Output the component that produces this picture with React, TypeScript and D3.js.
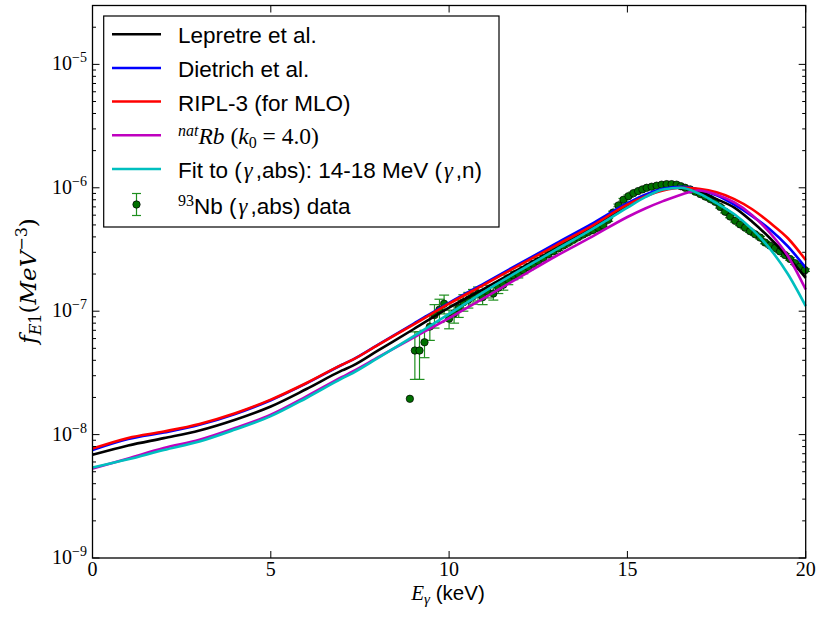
import React from 'react';
import * as d3 from 'd3';

const W = 817;
const H = 617;
const X0 = 92.5;
const X1 = 805.7;
const Y0 = 5.5;
const Y1 = 558;

const xTicks = [0, 5, 10, 15, 20];
const yTickExps = [-9, -8, -7, -6, -5];

// Model curves (E in MeV, f_E1)
const curveE = [0, 1, 2, 3, 4, 5, 6, 7, 7.3, 8, 9, 10, 11, 12, 13, 14, 15, 15.5, 16, 16.5, 17, 17.5, 18, 18.5, 19, 19.5, 20];
const lepretre = [6.85e-9, 8.16e-9, 9.36e-9, 1.08e-8, 1.32e-8, 1.69e-8, 2.34e-8, 3.31e-8, 3.62e-8, 4.79e-8, 7.14e-8, 1.07e-7, 1.53e-7, 2.22e-7, 3.2e-7, 4.7e-7, 7.2e-7, 8.6e-7, 9.7e-7, 1.01e-6, 9.4e-7, 8.1e-7, 6.9e-7, 5.3e-7, 3.9e-7, 2.75e-7, 1.86e-7];
const dietrich = [7.5e-9, 9.2e-9, 1.04e-8, 1.2e-8, 1.47e-8, 1.9e-8, 2.6e-8, 3.68e-8, 4.05e-8, 5.33e-8, 7.9e-8, 1.17e-7, 1.69e-7, 2.45e-7, 3.55e-7, 5.1e-7, 7.5e-7, 8.8e-7, 9.8e-7, 1.02e-6, 9.7e-7, 8.7e-7, 7.3e-7, 5.9e-7, 4.6e-7, 3.35e-7, 2.25e-7];
const ripl3 = [7.7e-9, 9.4e-9, 1.06e-8, 1.22e-8, 1.49e-8, 1.92e-8, 2.62e-8, 3.69e-8, 4.05e-8, 5.31e-8, 7.79e-8, 1.15e-7, 1.65e-7, 2.38e-7, 3.42e-7, 4.9e-7, 7.3e-7, 8.5e-7, 9.5e-7, 1.0e-6, 9.8e-7, 9.2e-7, 8.1e-7, 6.7e-7, 5.2e-7, 3.9e-7, 2.6e-7];
const natRb = [5.3e-9, 6.4e-9, 7.77e-9, 9.08e-9, 1.13e-8, 1.45e-8, 2.04e-8, 2.93e-8, 3.25e-8, 4.22e-8, 6.1e-8, 8.8e-8, 1.29e-7, 1.9e-7, 2.8e-7, 4.0e-7, 5.8e-7, 6.8e-7, 7.8e-7, 8.8e-7, 9.5e-7, 8.8e-7, 7.6e-7, 6.0e-7, 4.3e-7, 2.8e-7, 1.5e-7];
const fitAbs = [5.4e-9, 6.3e-9, 7.5e-9, 8.8e-9, 1.1e-8, 1.41e-8, 1.98e-8, 2.85e-8, 3.15e-8, 4.16e-8, 6.26e-8, 9.5e-8, 1.45e-7, 2.15e-7, 3.15e-7, 4.6e-7, 6.9e-7, 8.4e-7, 9.7e-7, 1.0e-6, 9.0e-7, 7.5e-7, 6.1e-7, 4.6e-7, 3.2e-7, 2.0e-7, 1.1e-7];

const seriesNames = ['Lepretre et al.', 'Dietrich et al.', 'RIPL-3 (for MLO)', 'natRb', 'Fit'];
const seriesColors = ['#000000', '#0000ff', '#ff0000', '#bf00bf', '#00bfbf'];
const seriesValues = [lepretre, dietrich, ripl3, natRb, fitAbs];

// 93Nb (gamma,abs) data
const dataE = [8.90, 9.04, 9.17, 9.31, 9.46, 9.59, 9.73, 9.86, 10.00, 10.14, 10.27, 10.40, 10.54, 10.67, 10.81, 10.94, 11.08, 11.24, 11.38, 11.52, 11.66, 11.80, 11.94, 12.08, 12.22, 12.36, 12.50, 12.64, 12.78, 12.92, 13.06, 13.20, 13.34, 13.48, 13.62, 13.76, 13.90, 14.04, 14.18, 14.32, 14.46, 14.60, 14.75, 14.89, 15.03, 15.17, 15.30, 15.42, 15.54, 15.68, 15.82, 15.96, 16.10, 16.24, 16.38, 16.50, 16.62, 16.76, 16.90, 17.04, 17.18, 17.32, 17.46, 17.60, 17.74, 17.88, 18.02, 18.16, 18.30, 18.44, 18.58, 18.72, 18.86, 19.00, 19.14, 19.28, 19.42, 19.56, 19.70, 19.84, 19.98];
const dataV = [1.95e-8, 4.8e-8, 4.8e-8, 5.6e-8, 7.5e-8, 9.3e-8, 1.03e-7, 1.15e-7, 8.7e-8, 9.6e-8, 1.06e-7, 1.18e-7, 1.24e-7, 1.32e-7, 1.39e-7, 1.30e-7, 1.45e-7, 1.39e-7, 1.55e-7, 1.64e-7, 1.80e-7, 1.95e-7, 2.0e-7, 2.15e-7, 2.28e-7, 2.42e-7, 2.55e-7, 2.7e-7, 2.88e-7, 3.05e-7, 3.22e-7, 3.4e-7, 3.58e-7, 3.78e-7, 3.98e-7, 4.18e-7, 4.38e-7, 4.55e-7, 4.75e-7, 4.95e-7, 5.5e-7, 6.3e-7, 7.2e-7, 8.0e-7, 8.55e-7, 9.05e-7, 9.4e-7, 9.7e-7, 1.0e-6, 1.02e-6, 1.04e-6, 1.06e-6, 1.07e-6, 1.07e-6, 1.06e-6, 1.03e-6, 1.0e-6, 9.7e-7, 9.3e-7, 8.9e-7, 8.5e-7, 8.1e-7, 7.7e-7, 7.0e-7, 6.4e-7, 5.85e-7, 5.4e-7, 5.05e-7, 4.75e-7, 4.45e-7, 4.2e-7, 3.95e-7, 3.6e-7, 3.4e-7, 3.25e-7, 3.05e-7, 2.85e-7, 2.65e-7, 2.45e-7, 2.3e-7, 2.15e-7];
const dataErr = [0, 2.0e-8, 2.0e-8, 1.4e-8, 1.7e-8, 2.0e-8, 2.2e-8, 2.0e-8, 1.5e-8, 1.6e-8, 1.7e-8, 1.8e-8, 1.8e-8, 1.8e-8, 1.8e-8, 1.7e-8, 1.7e-8, 1.6e-8, 1.6e-8, 1.6e-8, 1.6e-8, 1.5e-8, 1.4e-8, 1.4e-8, 1.3e-8, 1.3e-8, 1.2e-8, 1.2e-8, 1.2e-8, 1.2e-8, 1.2e-8, 1.2e-8, 1.2e-8, 1.2e-8, 1.2e-8, 1.3e-8, 1.3e-8, 1.3e-8, 1.4e-8, 1.4e-8, 1.5e-8, 1.6e-8, 1.8e-8, 2.0e-8, 2.0e-8, 2.0e-8, 2.0e-8, 2.0e-8, 2.0e-8, 2.0e-8, 2.0e-8, 2.0e-8, 2.0e-8, 2.0e-8, 2.0e-8, 2.0e-8, 2.0e-8, 2.0e-8, 2.0e-8, 1.8e-8, 1.8e-8, 1.7e-8, 1.6e-8, 1.5e-8, 1.4e-8, 1.3e-8, 1.2e-8, 1.1e-8, 1.0e-8, 1.0e-8, 9e-9, 9e-9, 8e-9, 8e-9, 8e-9, 7e-9, 7e-9, 6e-9, 6e-9, 6e-9, 5e-9];

const SERIF = '"Liberation Serif", "DejaVu Serif", serif';
const WSERIF = '"DejaVu Serif", "Liberation Serif", serif';
const SANS = '"Liberation Sans", Arial, sans-serif';

export default function App() {
  const x = d3.scaleLinear().domain([0, 20]).range([X0, X1]);
  const y = d3.scaleLog().domain([1e-9, 3e-5]).range([Y1, Y0]);
  const line = d3
    .line<[number, number]>()
    .x((d) => x(d[0]))
    .y((d) => y(d[1]))
    .curve(d3.curveMonotoneX);

  const minorY: number[] = [];
  for (let e = -9; e <= -5; e++) {
    for (let m = 2; m <= 9; m++) {
      const v = m * Math.pow(10, e);
      if (v < 3e-5) minorY.push(v);
    }
  }

  const legendRows = [34.3, 68, 101.5, 135.3, 169, 204.5];
  const LX = 178;

  return (
    <svg width={W} height={H} style={{ position: 'absolute', left: 0, top: 0, background: '#fff' }}>
      <rect x={0} y={0} width={W} height={H} fill="#fff" />
      {/* data */}
      <g>
        {dataE.map((e, i) => {
          const v = dataV[i];
          const er = dataErr[i];
          if (er <= 0) return null;
          const cx = x(e);
          const lo = y(Math.max(v - er, 1e-9));
          const hi = y(v + er);
          return (
            <g key={'eb' + i} stroke="#1f8f1f" strokeWidth={1.2}>
              <line x1={cx} x2={cx} y1={lo} y2={hi} />
              <line x1={cx - 5} x2={cx + 5} y1={lo} y2={lo} />
              <line x1={cx - 5} x2={cx + 5} y1={hi} y2={hi} />
            </g>
          );
        })}
        {dataE.map((e, i) => (
          <circle key={'pt' + i} cx={x(e)} cy={y(dataV[i])} r={3.7} fill="#007000" stroke="#000" strokeWidth={0.7} />
        ))}
      </g>
      {/* curves */}
      <g fill="none" strokeWidth={2.6}>
        {seriesValues.map((vals, si) => (
          <path
            key={seriesNames[si]}
            d={line(curveE.map((e, i) => [e, vals[i]] as [number, number])) || ''}
            stroke={seriesColors[si]}
          />
        ))}
      </g>
      {/* frame */}
      <rect x={X0} y={Y0} width={X1 - X0} height={Y1 - Y0} fill="none" stroke="#000" strokeWidth={1.3} />
      {/* ticks */}
      <g stroke="#000" strokeWidth={1}>
        {xTicks.map((t) => (
          <g key={'xt' + t}>
            <line x1={x(t)} x2={x(t)} y1={Y1} y2={Y1 - 7} />
            <line x1={x(t)} x2={x(t)} y1={Y0} y2={Y0 + 7} />
          </g>
        ))}
        {yTickExps.map((e) => {
          const yy = y(Math.pow(10, e));
          return (
            <g key={'yt' + e}>
              <line x1={X0} x2={X0 + 7} y1={yy} y2={yy} />
              <line x1={X1} x2={X1 - 7} y1={yy} y2={yy} />
            </g>
          );
        })}
        {minorY.map((v, i) => (
          <g key={'ym' + i}>
            <line x1={X0} x2={X0 + 3.5} y1={y(v)} y2={y(v)} />
            <line x1={X1} x2={X1 - 3.5} y1={y(v)} y2={y(v)} />
          </g>
        ))}
      </g>
      {/* tick labels */}
      <g fontFamily={SERIF} fill="#000">
        {xTicks.map((t) => (
          <text key={'xl' + t} x={x(t)} y={576} fontSize={20} textAnchor="middle">
            {t}
          </text>
        ))}
        {yTickExps.map((e) => {
          const yy = y(Math.pow(10, e));
          return (
            <text key={'yl' + e} x={87} y={yy + 6} fontSize={20} textAnchor="end">
              10
              <tspan fontSize={14} dy={-8}>
                {'\u2212' + Math.abs(e)}
              </tspan>
            </text>
          );
        })}
      </g>
      {/* axis labels */}
      <text x={448} y={600} textAnchor="middle" fontSize={21} fill="#000">
        <tspan fontFamily={SERIF} fontStyle="italic">E</tspan>
        <tspan fontFamily={SERIF} fontStyle="italic" fontSize={15} dy={4}>γ</tspan>
        <tspan fontFamily={SANS} fontSize={20.5} dy={-4}>{' (keV)'}</tspan>
      </text>
      <text transform="translate(36,281) rotate(-90)" textAnchor="middle" fontFamily={WSERIF} fontSize={23} fill="#000">
        <tspan fontStyle="italic">f</tspan>
        <tspan fontSize={16} dy={5}>
          <tspan fontStyle="italic">E</tspan>1
        </tspan>
        <tspan dy={-5}>(</tspan>
        <tspan fontStyle="italic">MeV</tspan>
        <tspan fontSize={16} dy={-9}>{'\u22123'}</tspan>
        <tspan dy={9}>)</tspan>
      </text>
      {/* legend */}
      <g>
        <rect x={103.7} y={16} width={395.3} height={211} fill="#fff" stroke="#000" strokeWidth={1.2} />
        {seriesColors.map((c, i) => (
          <line key={'ll' + i} x1={112} x2={161} y1={legendRows[i]} y2={legendRows[i]} stroke={c} strokeWidth={2.6} />
        ))}
        <g stroke="#1f8f1f" strokeWidth={1.2}>
          <line x1={136.5} x2={136.5} y1={legendRows[5] - 11} y2={legendRows[5] + 11} />
          <line x1={132} x2={141} y1={legendRows[5] - 11} y2={legendRows[5] - 11} />
          <line x1={132} x2={141} y1={legendRows[5] + 11} y2={legendRows[5] + 11} />
        </g>
        <circle cx={136.5} cy={legendRows[5]} r={3.7} fill="#007000" stroke="#000" strokeWidth={0.7} />
        <g fill="#000" fontSize={22.5} fontFamily={SANS}>
          <text x={LX} y={legendRows[0] + 9}>{seriesNames[0]}</text>
          <text x={LX} y={legendRows[1] + 9}>{seriesNames[1]}</text>
          <text x={LX} y={legendRows[2] + 9}>{seriesNames[2]}</text>
          <text x={LX} y={legendRows[3] + 9} fontFamily={SERIF} fontSize={23.5}>
            <tspan fontStyle="italic" fontSize={16} dy={-8}>nat</tspan>
            <tspan fontStyle="italic" dy={8}>Rb</tspan>
            <tspan>{' ('}</tspan>
            <tspan fontStyle="italic">k</tspan>
            <tspan fontSize={16} dy={4}>0</tspan>
            <tspan dy={-4}>{' = 4.0)'}</tspan>
          </text>
          <text x={LX} y={legendRows[4] + 9}>
            <tspan>Fit to (</tspan>
            <tspan fontFamily={SERIF} fontStyle="italic" dx={2}>γ</tspan>
            <tspan dx={3}>,abs): 14-18 MeV (</tspan>
            <tspan fontFamily={SERIF} fontStyle="italic" dx={2}>γ</tspan>
            <tspan dx={3}>,n)</tspan>
          </text>
          <text x={LX} y={legendRows[5] + 9}>
            <tspan fontFamily={SERIF} fontSize={16} dy={-8}>93</tspan>
            <tspan dy={8}>Nb (</tspan>
            <tspan fontFamily={SERIF} fontStyle="italic" dx={2}>γ</tspan>
            <tspan dx={3}>,abs) data</tspan>
          </text>
        </g>
      </g>
    </svg>
  );
}
